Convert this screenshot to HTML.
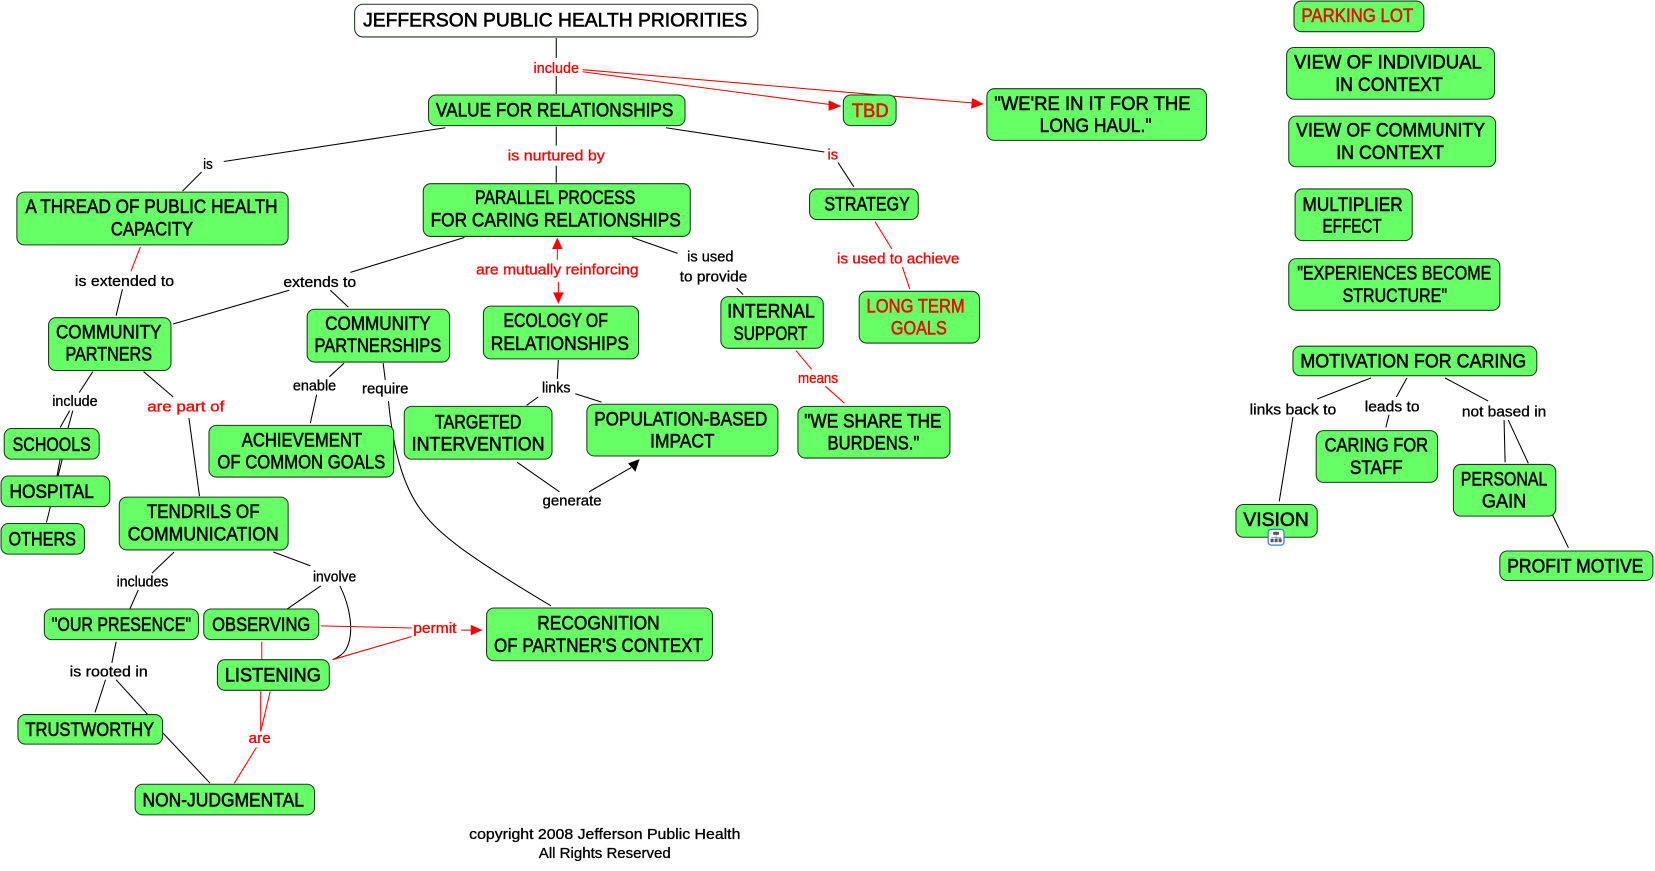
<!DOCTYPE html>
<html><head><meta charset="utf-8"><title>Jefferson Public Health Priorities</title>
<style>
html,body{margin:0;padding:0;background:#fff;width:1655px;height:871px;overflow:hidden}
svg{display:block;filter:blur(.35px)}
rect{fill:#66ff66;stroke:#1c3a1c;stroke-width:1}
line,path.l{stroke:#000;stroke-width:1;fill:none}
.r line,.r path.l{stroke:#f00}
text{font-family:"Liberation Sans",sans-serif;text-anchor:middle}
.n text{font-size:18.5px;fill:#000;stroke:#000;stroke-width:.55}
.n text.red{fill:#e81000;stroke:#e81000}
.t text{font-size:14px;fill:#000;stroke:#000;stroke-width:.3}
.t text.red{fill:#f00;stroke:#f00}
</style></head><body>
<svg width="1655" height="871" viewBox="0 0 1568 825.2" xmlns="http://www.w3.org/2000/svg">
<g id="black">
<line x1="527" y1="36" x2="527" y2="55"/><line x1="527" y1="72" x2="527" y2="89"/>
<line x1="527" y1="120" x2="527" y2="138"/><line x1="527" y1="157" x2="527" y2="173"/>
<line x1="422" y1="121" x2="212" y2="153"/><line x1="191" y1="163" x2="173" y2="181"/>
<line x1="631" y1="121" x2="781" y2="144"/><line x1="794" y1="154" x2="809" y2="177"/>
<line x1="116" y1="274" x2="110" y2="299"/>
<line x1="440" y1="225" x2="332" y2="258"/><line x1="274" y1="275" x2="164" y2="307"/><line x1="313" y1="275" x2="330" y2="291"/>
<line x1="599" y1="225" x2="642" y2="240"/><line x1="698" y1="273" x2="704" y2="279"/>
<line x1="529" y1="341" x2="528" y2="359"/><line x1="510" y1="376" x2="499" y2="384"/><line x1="545" y1="373" x2="570" y2="381"/>
<line x1="326" y1="344" x2="312" y2="357"/><line x1="300" y1="374" x2="294" y2="401"/>
<line x1="363" y1="344" x2="365" y2="360"/>
<path class="l" d="M368,380 C372,420 380,460 401,486 C415,505 440,525 522,574"/>
<line x1="88" y1="352" x2="75" y2="372"/><line x1="66" y1="389" x2="57" y2="405"/><line x1="69" y1="389" x2="64" y2="407"/>
<line x1="59" y1="435" x2="55" y2="451"/><line x1="57" y1="435" x2="54" y2="451"/><line x1="48" y1="479" x2="44" y2="495"/>
<line x1="136" y1="352" x2="164" y2="376"/>
<line x1="179" y1="396" x2="189" y2="470"/>
<line x1="490" y1="438" x2="530" y2="466"/><line x1="558" y1="466" x2="598" y2="443"/>
<line x1="165" y1="523" x2="144" y2="543"/><line x1="131" y1="559" x2="123" y2="577"/>
<line x1="259" y1="523" x2="294" y2="536"/><line x1="304" y1="555" x2="272" y2="577"/>
<path class="l" d="M322,555 C332,575 336,600 328,615 C325,620 320,623 315,625"/>
<line x1="110" y1="608" x2="106" y2="628"/><line x1="100" y1="644" x2="90" y2="675"/>
<line x1="110" y1="644" x2="140" y2="677"/><line x1="153" y1="693" x2="199" y2="742"/>
<line x1="1299" y1="358" x2="1248" y2="378"/><line x1="1225" y1="395" x2="1212" y2="475"/>
<line x1="1333" y1="358" x2="1323" y2="376"/><line x1="1316" y1="393" x2="1313" y2="405"/>
<line x1="1369" y1="358" x2="1410" y2="380"/><line x1="1425" y1="398" x2="1426" y2="438"/><line x1="1429" y1="398" x2="1448" y2="439"/>
<line x1="1471" y1="488" x2="1486" y2="519"/>
<polygon points="606,435 595,439 602,447" fill="#000"/>
</g>
<g class="r">
<line x1="552" y1="66" x2="922" y2="97.6"/><line x1="552" y1="68" x2="786" y2="99"/>
<line x1="133" y1="234" x2="124" y2="257"/>
<line x1="528" y1="246" x2="528" y2="235"/><line x1="529" y1="267" x2="529" y2="278"/>
<line x1="754" y1="332" x2="769" y2="350"/><line x1="782" y1="366" x2="800" y2="382"/>
<line x1="829" y1="210" x2="845" y2="236"/><line x1="855" y1="253" x2="862" y2="274"/>
<line x1="304" y1="593" x2="390" y2="595"/><line x1="315" y1="625" x2="390" y2="603"/><line x1="437" y1="597" x2="448" y2="597"/>
<line x1="248" y1="608" x2="248" y2="625"/><line x1="247" y1="655" x2="247" y2="693"/><line x1="256" y1="655" x2="247" y2="693"/>
<line x1="243" y1="708" x2="222" y2="742"/>
<polygon points="932,98.5 921,93 920,103" fill="#f00"/>
<polygon points="797,100.5 785,95 785,105" fill="#f00"/>
<polygon points="528,225 523,236 533,236" fill="#f00"/>
<polygon points="529,288 524,277 534,277" fill="#f00"/>
<polygon points="457,597 446,592 446,602" fill="#f00"/>
</g>
<g class="n">
<rect x="336" y="4" width="382" height="31" rx="8" style="fill:#fff"/><text x="526" y="25" textLength="364" lengthAdjust="spacingAndGlyphs">JEFFERSON PUBLIC HEALTH PRIORITIES</text>
<rect x="406" y="90" width="243" height="29" rx="7"/><text x="525.5" y="110.5" textLength="225" lengthAdjust="spacingAndGlyphs">VALUE FOR RELATIONSHIPS</text>
<rect x="16" y="182" width="257" height="50" rx="7"/><text x="143.5" y="202" textLength="239" lengthAdjust="spacingAndGlyphs">A THREAD OF PUBLIC HEALTH</text><text x="144" y="223" textLength="78" lengthAdjust="spacingAndGlyphs">CAPACITY</text>
<rect x="401" y="174" width="253" height="50" rx="7"/><text x="526" y="193.5" textLength="152" lengthAdjust="spacingAndGlyphs">PARALLEL PROCESS</text><text x="526.5" y="214.5" textLength="237" lengthAdjust="spacingAndGlyphs">FOR CARING RELATIONSHIPS</text>
<rect x="767" y="179" width="103" height="29" rx="7"/><text x="821.5" y="199.5" textLength="81" lengthAdjust="spacingAndGlyphs">STRATEGY</text>
<rect x="799" y="90" width="50" height="29" rx="7"/><text class="red" x="824.5" y="111" textLength="35" lengthAdjust="spacingAndGlyphs">TBD</text>
<rect x="935" y="84" width="208" height="49" rx="7"/><text x="1035" y="104" textLength="186" lengthAdjust="spacingAndGlyphs">"WE'RE IN IT FOR THE</text><text x="1038" y="125" textLength="106" lengthAdjust="spacingAndGlyphs">LONG HAUL."</text>
<rect x="46" y="301" width="116" height="50" rx="7"/><text x="103" y="320.5" textLength="100" lengthAdjust="spacingAndGlyphs">COMMUNITY</text><text x="103" y="341.5" textLength="82" lengthAdjust="spacingAndGlyphs">PARTNERS</text>
<rect x="291" y="293" width="135" height="50" rx="7"/><text x="358" y="312.5" textLength="100" lengthAdjust="spacingAndGlyphs">COMMUNITY</text><text x="358" y="333.5" textLength="120" lengthAdjust="spacingAndGlyphs">PARTNERSHIPS</text>
<rect x="458" y="290" width="147" height="50" rx="7"/><text x="526.5" y="310" textLength="99" lengthAdjust="spacingAndGlyphs">ECOLOGY OF</text><text x="530.5" y="331.5" textLength="131" lengthAdjust="spacingAndGlyphs">RELATIONSHIPS</text>
<rect x="683" y="281" width="97" height="49" rx="7"/><text x="730.5" y="301" textLength="83" lengthAdjust="spacingAndGlyphs">INTERNAL</text><text x="730" y="322" textLength="70" lengthAdjust="spacingAndGlyphs">SUPPORT</text>
<rect x="814" y="276" width="114" height="49" rx="7"/><text class="red" x="867.5" y="296" textLength="93" lengthAdjust="spacingAndGlyphs">LONG TERM</text><text class="red" x="870.5" y="317" textLength="53" lengthAdjust="spacingAndGlyphs">GOALS</text>
<rect x="4" y="406" width="90" height="29" rx="7"/><text x="49" y="427.5" textLength="74" lengthAdjust="spacingAndGlyphs">SCHOOLS</text>
<rect x="1" y="451" width="103" height="29" rx="7"/><text x="49" y="472" textLength="80" lengthAdjust="spacingAndGlyphs">HOSPITAL</text>
<rect x="1" y="496" width="79" height="29" rx="7"/><text x="40" y="517" textLength="64" lengthAdjust="spacingAndGlyphs">OTHERS</text>
<rect x="198" y="403" width="175" height="49" rx="7"/><text x="286" y="423" textLength="114" lengthAdjust="spacingAndGlyphs">ACHIEVEMENT</text><text x="285.5" y="444" textLength="159" lengthAdjust="spacingAndGlyphs">OF COMMON GOALS</text>
<rect x="383" y="385" width="140" height="50" rx="7"/><text x="453" y="406" textLength="82" lengthAdjust="spacingAndGlyphs">TARGETED</text><text x="453" y="427" textLength="126" lengthAdjust="spacingAndGlyphs">INTERVENTION</text>
<rect x="556" y="383" width="181" height="49" rx="7"/><text x="645" y="403" textLength="164" lengthAdjust="spacingAndGlyphs">POPULATION-BASED</text><text x="646.5" y="424" textLength="61" lengthAdjust="spacingAndGlyphs">IMPACT</text>
<rect x="756" y="385" width="144" height="49" rx="7"/><text x="827" y="405" textLength="130" lengthAdjust="spacingAndGlyphs">"WE SHARE THE</text><text x="827.5" y="426" textLength="87" lengthAdjust="spacingAndGlyphs">BURDENS."</text>
<rect x="113" y="471" width="160" height="50" rx="7"/><text x="192.5" y="491" textLength="107" lengthAdjust="spacingAndGlyphs">TENDRILS OF</text><text x="192.5" y="512" textLength="143" lengthAdjust="spacingAndGlyphs">COMMUNICATION</text>
<rect x="42" y="577" width="146" height="29" rx="7"/><text x="115" y="598" textLength="132" lengthAdjust="spacingAndGlyphs">"OUR PRESENCE"</text>
<rect x="193" y="577" width="109" height="29" rx="7"/><text x="247.5" y="598" textLength="93" lengthAdjust="spacingAndGlyphs">OBSERVING</text>
<rect x="206" y="625" width="106" height="29" rx="7"/><text x="258.5" y="645.5" textLength="91" lengthAdjust="spacingAndGlyphs">LISTENING</text>
<rect x="461" y="576" width="214" height="50" rx="7"/><text x="567" y="596.5" textLength="116" lengthAdjust="spacingAndGlyphs">RECOGNITION</text><text x="567" y="617.5" textLength="198" lengthAdjust="spacingAndGlyphs">OF PARTNER'S CONTEXT</text>
<rect x="17" y="677" width="137" height="28" rx="7"/><text x="85" y="697.5" textLength="122" lengthAdjust="spacingAndGlyphs">TRUSTWORTHY</text>
<rect x="128" y="743" width="170" height="29" rx="7"/><text x="211.5" y="764" textLength="153" lengthAdjust="spacingAndGlyphs">NON-JUDGMENTAL</text>
<rect x="1226" y="1" width="123" height="29" rx="7"/><text class="red" x="1286" y="21" textLength="106" lengthAdjust="spacingAndGlyphs">PARKING LOT</text>
<rect x="1219" y="45" width="197" height="49" rx="7"/><text x="1315" y="65" textLength="178" lengthAdjust="spacingAndGlyphs">VIEW OF INDIVIDUAL</text><text x="1316" y="86" textLength="102" lengthAdjust="spacingAndGlyphs">IN CONTEXT</text>
<rect x="1221" y="110" width="196" height="48" rx="7"/><text x="1317.5" y="129.5" textLength="179" lengthAdjust="spacingAndGlyphs">VIEW OF COMMUNITY</text><text x="1317" y="150.5" textLength="102" lengthAdjust="spacingAndGlyphs">IN CONTEXT</text>
<rect x="1227" y="179" width="111" height="49" rx="7"/><text x="1281.5" y="200" textLength="95" lengthAdjust="spacingAndGlyphs">MULTIPLIER</text><text x="1281" y="220.5" textLength="56" lengthAdjust="spacingAndGlyphs">EFFECT</text>
<rect x="1221" y="245" width="200" height="49" rx="7"/><text x="1321" y="265" textLength="184" lengthAdjust="spacingAndGlyphs">"EXPERIENCES BECOME</text><text x="1321.5" y="286" textLength="99" lengthAdjust="spacingAndGlyphs">STRUCTURE"</text>
<rect x="1225" y="328" width="231" height="28" rx="7"/><text x="1339" y="348" textLength="214" lengthAdjust="spacingAndGlyphs">MOTIVATION FOR CARING</text>
<rect x="1247" y="408" width="115" height="49" rx="7"/><text x="1304" y="428" textLength="98" lengthAdjust="spacingAndGlyphs">CARING FOR</text><text x="1304" y="449" textLength="50" lengthAdjust="spacingAndGlyphs">STAFF</text>
<rect x="1377" y="440" width="97" height="49" rx="7"/><text x="1425" y="460" textLength="82" lengthAdjust="spacingAndGlyphs">PERSONAL</text><text x="1425" y="481" textLength="42" lengthAdjust="spacingAndGlyphs">GAIN</text>
<rect x="1171" y="478" width="77" height="31" rx="7"/><text x="1209" y="498.5" textLength="62" lengthAdjust="spacingAndGlyphs">VISION</text>
<rect x="1421" y="522" width="145" height="28" rx="7"/><text x="1492.5" y="542.5" textLength="129" lengthAdjust="spacingAndGlyphs">PROFIT MOTIVE</text>
</g>
<g>
<rect x="1201.5" y="501.5" width="15" height="15" rx="3" style="fill:#fff;stroke:#3a7fd0;stroke-width:1.2"/>
<path d="M1206.5,504h5v2.5h-5zM1209,506.5v3M1204.5,509.5h9v.6M1204,510.5h2.5v3h-2.5zM1207.8,510.5h2.5v3h-2.5zM1211.6,510.5h2.5v3h-2.5z" fill="#556" stroke="#556" stroke-width=".4"/>
</g>
<g class="t" transform="translate(0,.8)">
<text class="red" x="527" y="68.5" textLength="43" lengthAdjust="spacingAndGlyphs">include</text>
<text class="red" x="527" y="151.5" textLength="92" lengthAdjust="spacingAndGlyphs">is nurtured by</text>
<text x="197" y="159.5" textLength="9" lengthAdjust="spacingAndGlyphs">is</text>
<text class="red" x="789" y="150.5" textLength="10" lengthAdjust="spacingAndGlyphs">is</text>
<text x="118" y="270" textLength="94" lengthAdjust="spacingAndGlyphs">is extended to</text>
<text x="303" y="271" textLength="69" lengthAdjust="spacingAndGlyphs">extends to</text>
<text class="red" x="528" y="259.5" textLength="154" lengthAdjust="spacingAndGlyphs">are mutually reinforcing</text>
<text x="673" y="247" textLength="44" lengthAdjust="spacingAndGlyphs">is used</text>
<text x="676" y="266" textLength="64" lengthAdjust="spacingAndGlyphs">to provide</text>
<text class="red" x="851" y="249" textLength="116" lengthAdjust="spacingAndGlyphs">is used to achieve</text>
<text class="red" x="775" y="362" textLength="38" lengthAdjust="spacingAndGlyphs">means</text>
<text x="527" y="371" textLength="27" lengthAdjust="spacingAndGlyphs">links</text>
<text x="298" y="369" textLength="41" lengthAdjust="spacingAndGlyphs">enable</text>
<text x="365" y="372" textLength="44" lengthAdjust="spacingAndGlyphs">require</text>
<text x="71" y="384" textLength="43" lengthAdjust="spacingAndGlyphs">include</text>
<text class="red" x="176" y="389" textLength="73" lengthAdjust="spacingAndGlyphs">are part of</text>
<text x="542" y="478" textLength="56" lengthAdjust="spacingAndGlyphs">generate</text>
<text x="135" y="555" textLength="49" lengthAdjust="spacingAndGlyphs">includes</text>
<text x="317" y="550" textLength="41" lengthAdjust="spacingAndGlyphs">involve</text>
<text class="red" x="412" y="599" textLength="41" lengthAdjust="spacingAndGlyphs">permit</text>
<text x="103" y="640" textLength="74" lengthAdjust="spacingAndGlyphs">is rooted in</text>
<text class="red" x="246" y="703" textLength="21" lengthAdjust="spacingAndGlyphs">are</text>
<text x="1225" y="392" textLength="82" lengthAdjust="spacingAndGlyphs">links back to</text>
<text x="1319" y="389" textLength="52" lengthAdjust="spacingAndGlyphs">leads to</text>
<text x="1425" y="394" textLength="80" lengthAdjust="spacingAndGlyphs">not based in</text>
<text x="573" y="794" textLength="257" lengthAdjust="spacingAndGlyphs">copyright 2008 Jefferson Public Health</text>
<text x="573" y="812" textLength="125" lengthAdjust="spacingAndGlyphs">All Rights Reserved</text>
</g>
</svg>
</body></html>
